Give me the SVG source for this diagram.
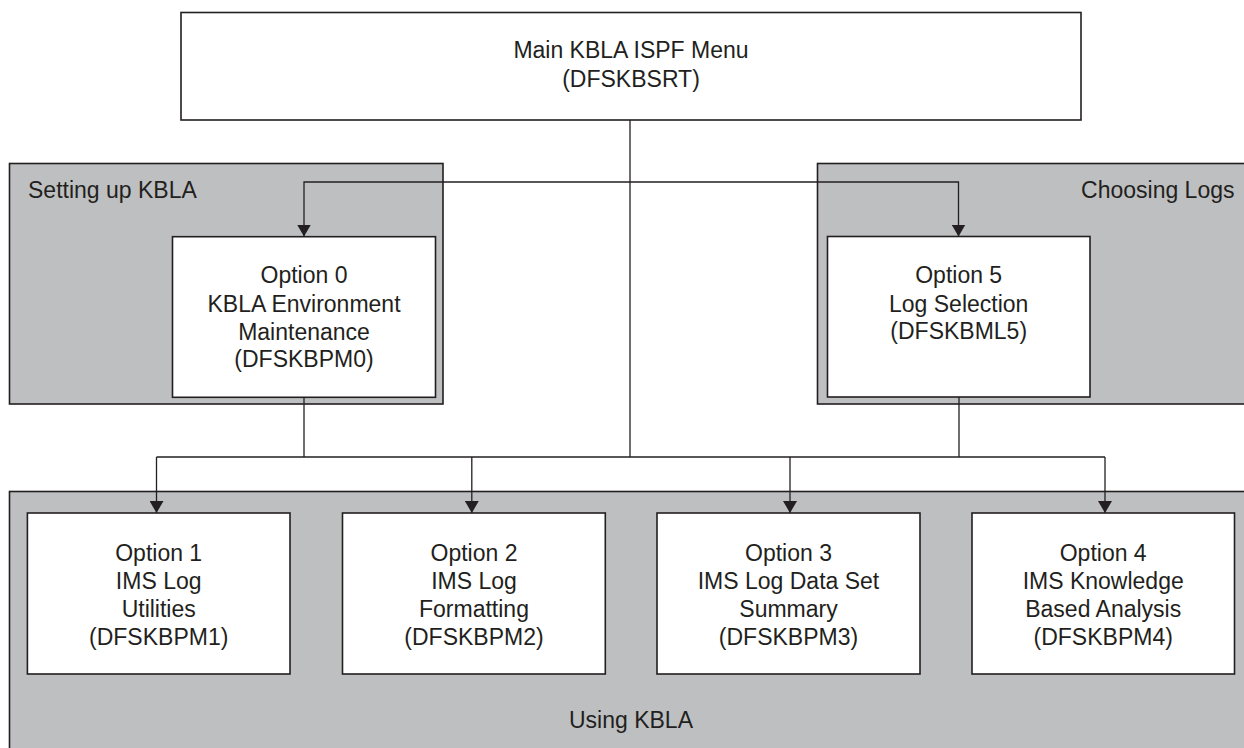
<svg xmlns="http://www.w3.org/2000/svg" width="1244" height="748" viewBox="0 0 1244 748">
<style>
.panel{fill:#bebfc1;stroke:#231f20;stroke-width:1.6}
.box{fill:#ffffff;stroke:#231f20;stroke-width:1.6}
.wire{fill:none;stroke:#231f20;stroke-width:1.3}
text{font-family:"Liberation Sans",Arial,Helvetica,sans-serif;font-size:23px;fill:#231f20}
.c{text-anchor:middle}
</style>
<defs>
<marker id="ah" markerUnits="userSpaceOnUse" markerWidth="14" markerHeight="13" refX="7" refY="12" orient="auto-start-reverse" viewBox="0 0 14 13">
<path d="M0 0 L14 0 L7 12 Z" fill="#231f20"/>
</marker>
<marker id="ad" markerUnits="userSpaceOnUse" markerWidth="14" markerHeight="14" refX="12" refY="7" orient="auto" viewBox="0 0 14 14">
<path d="M0 0 L12 7 L0 14 Z" fill="#231f20"/>
</marker>
</defs>
<rect width="1244" height="748" fill="#ffffff"/>
<g id="panel-setup">
<rect class="panel" x="9.5" y="163.5" width="433.5" height="240.5"/>
<text x="28" y="198">Setting up KBLA</text>
</g>
<g id="panel-logs">
<rect class="panel" x="817.5" y="163.5" width="440" height="240.5"/>
<text x="1234.5" y="198" text-anchor="end">Choosing Logs</text>
</g>
<g id="panel-using">
<rect class="panel" x="9.5" y="491.5" width="1250" height="270"/>
<text class="c" x="631" y="728">Using KBLA</text>
</g>
<g id="connectors">
<path class="wire" d="M630 120 V457"/>
<path class="wire" d="M630 182 H304 V236.5" marker-end="url(#ad)"/>
<path class="wire" d="M630 182 H958.5 V236.5" marker-end="url(#ad)"/>
<path class="wire" d="M304 397 V457"/>
<path class="wire" d="M959 397 V457"/>
<path class="wire" d="M156.5 457 H1105"/>
<path class="wire" d="M156.5 457 V513" marker-end="url(#ad)"/>
<path class="wire" d="M471.8 457 V513" marker-end="url(#ad)"/>
<path class="wire" d="M790 457 V513" marker-end="url(#ad)"/>
<path class="wire" d="M1105 457 V513" marker-end="url(#ad)"/>
</g>
<g id="main">
<rect class="box" x="181" y="12.5" width="900" height="107.5"/>
<text class="c" x="631" y="58">Main KBLA ISPF Menu</text>
<text class="c" x="631" y="87">(DFSKBSRT)</text>
</g>
<g id="opt0">
<rect class="box" x="172.5" y="236.7" width="263" height="160.6"/>
<text class="c" x="304" y="283">Option 0</text>
<text class="c" x="304" y="311.5">KBLA Environment</text>
<text class="c" x="304" y="340">Maintenance</text>
<text class="c" x="304" y="367">(DFSKBPM0)</text>
</g>
<g id="opt5">
<rect class="box" x="827.5" y="236.5" width="262.5" height="160.5"/>
<text class="c" x="958.7" y="283">Option 5</text>
<text class="c" x="958.7" y="311.5">Log Selection</text>
<text class="c" x="958.7" y="339">(DFSKBML5)</text>
</g>
<g id="opt1">
<rect class="box" x="27.4" y="513" width="262.6" height="161"/>
<text class="c" x="158.7" y="560.7">Option 1</text>
<text class="c" x="158.7" y="589">IMS Log</text>
<text class="c" x="158.7" y="616.7">Utilities</text>
<text class="c" x="158.7" y="645">(DFSKBPM1)</text>
</g>
<g id="opt2">
<rect class="box" x="342.5" y="513" width="262.8" height="161"/>
<text class="c" x="474" y="560.7">Option 2</text>
<text class="c" x="474" y="589">IMS Log</text>
<text class="c" x="474" y="616.7">Formatting</text>
<text class="c" x="474" y="645">(DFSKBPM2)</text>
</g>
<g id="opt3">
<rect class="box" x="657" y="513" width="263" height="161"/>
<text class="c" x="788.5" y="560.7">Option 3</text>
<text class="c" x="788.5" y="589">IMS Log Data Set</text>
<text class="c" x="788.5" y="616.7">Summary</text>
<text class="c" x="788.5" y="645">(DFSKBPM3)</text>
</g>
<g id="opt4">
<rect class="box" x="972" y="513" width="262.5" height="161"/>
<text class="c" x="1103.2" y="560.7">Option 4</text>
<text class="c" x="1103.2" y="589">IMS Knowledge</text>
<text class="c" x="1103.2" y="616.7">Based Analysis</text>
<text class="c" x="1103.2" y="645">(DFSKBPM4)</text>
</g>
</svg>
